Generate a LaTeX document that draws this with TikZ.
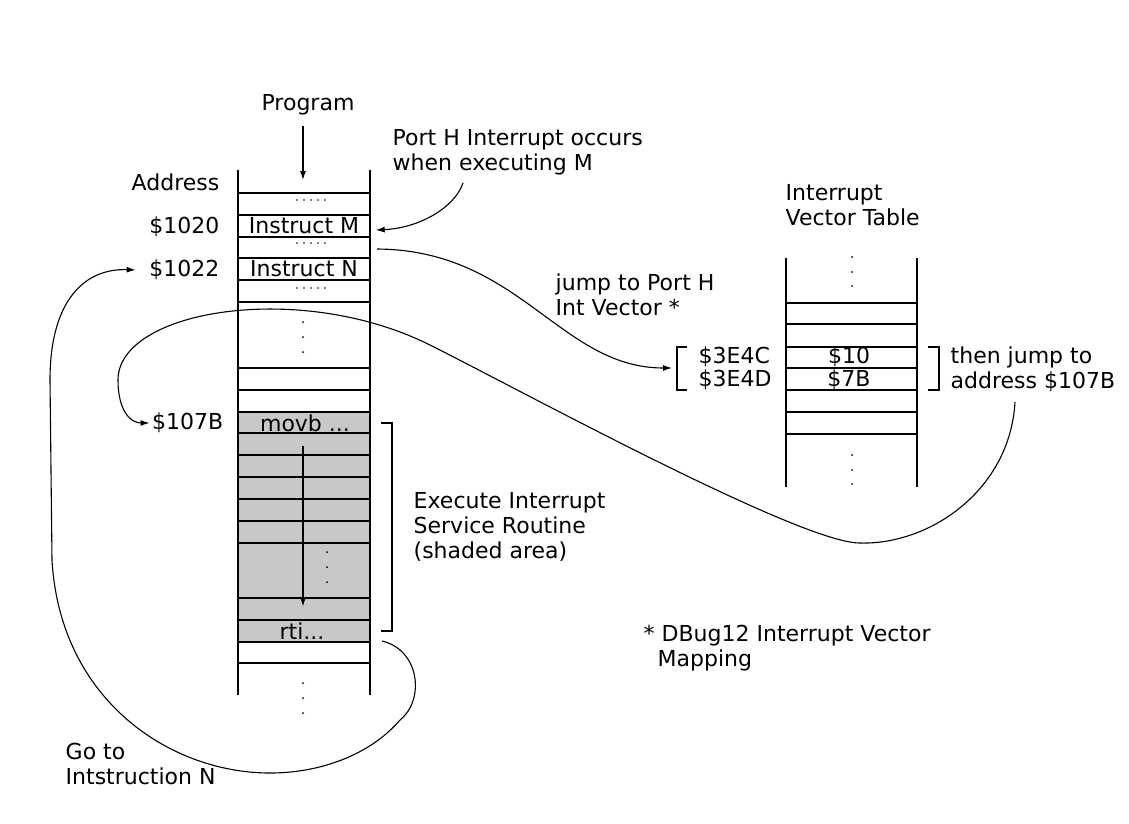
\documentclass[tikz,border=0pt]{standalone}
\usepackage{fontspec}
\setmainfont{DejaVu Sans}
\usetikzlibrary{arrows.meta,calc}
\definecolor{isrgray}{RGB}{200,200,200}
\tikzstyle{every node}=[inner sep=2pt]
\tikzstyle{lbl}=[anchor=west,align=left]
\tikzstyle{cell}=[minimum width=132pt,minimum height=21.7pt,inner sep=0pt]
\tikzstyle{arr}=[line width=1.1pt,-{Latex[length=9pt,width=6pt]}]

\begin{document}
\begin{tikzpicture}[x=1pt, y=-1pt, line width=1.4pt, font=\fontsize{22}{25}\selectfont]
	\useasboundingbox (0,0) rectangle (1129,823);
	%program memory
	\fill[isrgray] (238,412) rectangle (370,642);
	\draw (238,170) -- (238,695) (370,170) -- (370,695);
	\foreach \y in {193,215,237,258,280,302,368,390,412,433,455,477,499,521,543,598,620,642,663}
	\draw (238,\y) -- (370,\y);
	\foreach \y in {200,243,288}
	\foreach \x in {297,304,...,325}
	\fill (\x,\y) circle (0.8);
	\foreach \y in {322,337,352,683,698,713}
	\fill (303,\y) circle (1);
	\foreach \y in {552,567,582}
	\fill (327,\y) circle (1);
	%vector table
	\draw (786,258) -- (786,487) (917,258) -- (917,487);
	\foreach \y in {303,324,347,368,390,412,434}
	\draw (786,\y) -- (917,\y);
	\foreach \y in {257,272,286,455,470,484}
	\fill (852,\y) circle (1);
	%brackets
	\draw (687,347) -- (677,347) -- (677,390) -- (687,390);
	\draw (928,347) -- (939,347) -- (939,390) -- (928,390);
	\draw (381,423) -- (392,423) -- (392,631) -- (381,631);
	%cells
	\node[cell] (instrM) at (304,226) {Instruct M};
	\node[cell] (instrN) at (304,269) {Instruct N};
	\node[cell] (movb) at (305,423) {movb ...};
	\node[cell] (rti) at (302,631) {rti...};
	\node (v10) at (849,357) {\$10};
	\node (v7B) at (849,380) {\$7B};
	%labels
	\node (prog) at (308,105) {Program};
	\node[anchor=east] (addr) at (222,182) {Address};
	\node[anchor=east] (a1020) at (222,227) {\$1020};
	\node[anchor=east] (a1022) at (222,270) {\$1022};
	\node[anchor=east] (a107B) at (226,423) {\$107B};
	\node[anchor=west] (v4C) at (696,357) {\$3E4C};
	\node[anchor=west] (v4D) at (696,380) {\$3E4D};
	\node[lbl] (irq) at (390,152) {Port H Interrupt occurs\\when executing M};
	\node[lbl] (jump) at (553,295) {jump to Port H\\Int Vector *};
	\node[lbl] (ivt) at (783,205) {Interrupt\\Vector Table};
	\node[lbl] (thenj) at (948,369) {then jump to\\address \$107B};
	\node[lbl] (isr) at (411,527) {Execute Interrupt\\Service Routine\\(shaded area)};
	\node[lbl] (note) at (641,648) {* DBug12 Interrupt Vector\\\hspace*{14pt}Mapping};
	\node[lbl] (gotoN) at (63,764) {Go to\\Intstruction N};
	%ends
	\coordinate (progtip) at (303,180);
	\coordinate (irqtail) at (463,183);
	\coordinate (mout) at (377,249);
	\coordinate (vecin) at (672,368);
	\coordinate (thenout) at (1015,402);
	\coordinate (rtiout) at (382,641);
	%arrows
	\draw[arr, shorten <=8pt] (prog.south -| progtip) -- (progtip);
	\draw[arr, shorten <=11pt, shorten >=13pt] (movb.south -| progtip) -- (rti.north -| progtip);
	\draw[arr] (irqtail) .. controls (455,207) and (420,228) .. ([xshift=5pt,yshift=-4pt]instrM.east);
	\draw[arr] (mout) .. controls (520,250) and (560,368) .. (vecin);
	\draw[arr] (thenout) .. controls (1010,490) and (930,545) .. (860,543)
	.. controls (800,543) and (520,390) .. (430,345)
	.. controls (300,280) and (118,310) .. (118,380)
	.. controls (118,410) and (130,423) .. (a107B.west);
	\draw[arr] (rtiout) .. controls (420,650) and (425,700) .. (400,720)
	.. controls (370,755) and (320,773) .. (270,773)
	.. controls (170,773) and (60,700) .. (52,560) -- (50,380)
	.. controls (50,300) and (85,268) .. ([xshift=-11pt]a1022.west);
\end{tikzpicture}
\end{document}
